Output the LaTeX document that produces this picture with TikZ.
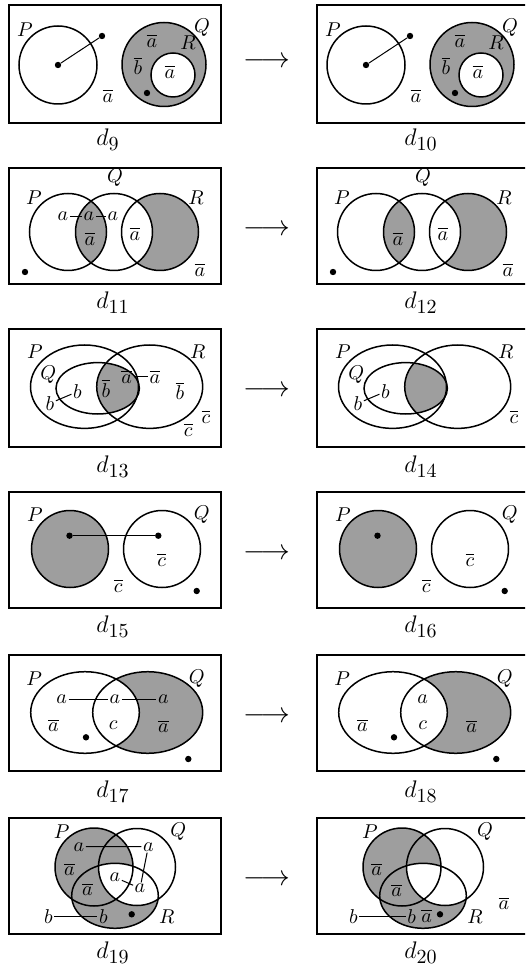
\documentclass[tikz,border=0pt]{standalone}
\usepackage{amsmath,amssymb}
\usepackage{tikz}

\newcommand{\dname}[1]{$d_{\text{\normalsize #1}}$}

\begin{document}
\begin{tikzpicture}[x=0.5pt, y=-0.5pt,
      frame/.style={draw, line width=1.2pt},
      venn/.style={draw, line width=0.75pt},
      shaded/.style={fill=black!38},
      spot/.style={circle, fill, inner sep=0pt, minimum size=3.2pt},
      lab/.style={inner sep=0.6pt},
      link/.style={line width=0.5pt},
      caption/.style={anchor=west, inner sep=0pt, font=\large},
      move/.style={font=\fontsize{13.5}{16}\selectfont}
    ]
    \clip (0,0) rectangle (525,967);

    % ── d9 ──
    \begin{scope}[shift={(0,5)}]
      \draw[frame] (9,0) rectangle (221,118);
      \fill[shaded] (164,59.5) circle (42);
      \fill[white] (173,70) circle (22);
      \draw[venn] (58,60) circle (39) (164,59.5) circle (42) (173,70) circle (22);
      \node[lab] (P9) at (25,25) {$P$};
      \node[lab] (Q9) at (202,23) {$Q$};
      \node[lab] (R9) at (188,38) {$R$};
      \node[spot] (c9) at (58,60) {};
      \node[spot] (e9) at (102,31) {};
      \draw[link] (c9) -- (e9);
      \node[lab] (aq9) at (152,36) {$\overline{a}$};
      \node[lab] (bq9) at (138,61) {$\overline{b}$};
      \node[lab] (ar9) at (170,67) {$\overline{a}$};
      \node[spot] (s9) at (147,88) {};
      \node[lab] (ao9) at (108,91) {$\overline{a}$};
      \node[caption] (d9) at (96,135) {\dname{9}};
    \end{scope}
    \node[move] (go1) at (267,62) {$\longrightarrow$};

    % ── d10 ──
    \begin{scope}[shift={(308,5)}]
      \draw[frame] (9,0) rectangle (221,118);
      \fill[shaded] (164,59.5) circle (42);
      \fill[white] (173,70) circle (22);
      \draw[venn] (58,60) circle (39) (164,59.5) circle (42) (173,70) circle (22);
      \node[lab] (P10) at (25,25) {$P$};
      \node[lab] (Q10) at (202,23) {$Q$};
      \node[lab] (R10) at (188,38) {$R$};
      \node[spot] (c10) at (58,60) {};
      \node[spot] (e10) at (102,31) {};
      \draw[link] (c10) -- (e10);
      \node[lab] (aq10) at (152,36) {$\overline{a}$};
      \node[lab] (bq10) at (138,61) {$\overline{b}$};
      \node[lab] (ar10) at (170,67) {$\overline{a}$};
      \node[spot] (s10) at (147,88) {};
      \node[lab] (ao10) at (108,91) {$\overline{a}$};
      \node[caption] (d10) at (96,135) {\dname{10}};
    \end{scope}

    % ── d11 ──
    \begin{scope}[shift={(0,168)}]
      \draw[frame] (9,0) rectangle (221,116);
      \begin{scope}
        \clip (68,64) circle (38.5);
        \fill[shaded] (114,64) circle (38.5);
      \end{scope}
      \fill[shaded] (160,64) circle (38.5);
      \begin{scope}
        \clip (160,64) circle (38.5);
        \fill[white] (114,64) circle (38.5);
      \end{scope}
      \draw[venn] (68,64) circle (38.5) (114,64) circle (38.5) (160,64) circle (38.5);
      \node[lab] (P11) at (34,30) {$P$};
      \node[lab] (Q11) at (115,10) {$Q$};
      \node[lab] (R11) at (196,30) {$R$};
      \node[lab] (al11) at (63,48.5) {$a$};
      \node[lab] (am11) at (89,48.5) {$a$};
      \node[lab] (ar11) at (113,48.5) {$a$};
      \draw[link] (al11) -- (am11) -- (ar11);
      \node[lab] (apq11) at (90,71) {$\overline{a}$};
      \node[lab] (aqr11) at (135,66) {$\overline{a}$};
      \node[lab] (ao11) at (200,102) {$\overline{a}$};
      \node[spot] (s11) at (25,104) {};
      \node[caption] (d11) at (96,135) {\dname{11}};
    \end{scope}
    \node[move] (go2) at (267,62+168) {$\longrightarrow$};

    % ── d12 ──
    \begin{scope}[shift={(308,168)}]
      \draw[frame] (9,0) rectangle (221,116);
      \begin{scope}
        \clip (68,64) circle (38.5);
        \fill[shaded] (114,64) circle (38.5);
      \end{scope}
      \fill[shaded] (160,64) circle (38.5);
      \begin{scope}
        \clip (160,64) circle (38.5);
        \fill[white] (114,64) circle (38.5);
      \end{scope}
      \draw[venn] (68,64) circle (38.5) (114,64) circle (38.5) (160,64) circle (38.5);
      \node[lab] (P12) at (34,30) {$P$};
      \node[lab] (Q12) at (115,10) {$Q$};
      \node[lab] (R12) at (196,30) {$R$};
      \node[lab] (apq12) at (90,71) {$\overline{a}$};
      \node[lab] (aqr12) at (135,66) {$\overline{a}$};
      \node[lab] (ao12) at (200,102) {$\overline{a}$};
      \node[spot] (s12) at (25,104) {};
      \node[caption] (d12) at (96,135) {\dname{12}};
    \end{scope}

    % ── d13 ──
    \begin{scope}[shift={(0,329)}]
      \draw[frame] (9,0) rectangle (221,118);
      \begin{scope}
        \clip (97.7,59.3) ellipse [x radius=41.7, y radius=25.7];
        \fill[shaded] (149.7,57.7) ellipse [x radius=53, y radius=41.7];
      \end{scope}
      \draw[venn] (84.5,57.7) ellipse [x radius=54, y radius=41.7];
      \draw[venn] (149.7,57.7) ellipse [x radius=53, y radius=41.7];
      \draw[venn] (97.7,59.3) ellipse [x radius=41.7, y radius=25.7];
      \node[lab] (P13) at (35,22.7) {$P$};
      \node[lab] (R13) at (197.7,22.7) {$R$};
      \node[lab] (Q13) at (48.3,46) {$Q$};
      \node[lab] (bl13) at (50,74.3) {$b$};
      \node[lab] (bu13) at (77.3,62.7) {$b$};
      \draw[link] (bl13) -- (bu13);
      \node[lab] (bg13) at (106,59.3) {$\overline{b}$};
      \node[lab] (al13) at (126.7,47.7) {$\overline{a}$};
      \node[lab] (ar13) at (155,47.7) {$\overline{a}$};
      \draw[link] (al13) -- (ar13);
      \node[lab] (br13) at (180,61.7) {$\overline{b}$};
      \node[lab] (cr13) at (206,87.7) {$\overline{c}$};
      \node[lab] (cl13) at (188.3,101) {$\overline{c}$};
      \node[caption] (d13) at (96,138) {\dname{13}};
    \end{scope}
    \node[move] (go3) at (267,62+329) {$\longrightarrow$};

    % ── d14 ──
    \begin{scope}[shift={(308,329)}]
      \draw[frame] (9,0) rectangle (221,118);
      \begin{scope}
        \clip (97.7,59.3) ellipse [x radius=41.7, y radius=25.7];
        \fill[shaded] (149.7,57.7) ellipse [x radius=53, y radius=41.7];
      \end{scope}
      \draw[venn] (84.5,57.7) ellipse [x radius=54, y radius=41.7];
      \draw[venn] (149.7,57.7) ellipse [x radius=53, y radius=41.7];
      \draw[venn] (97.7,59.3) ellipse [x radius=41.7, y radius=25.7];
      \node[lab] (P14) at (35,22.7) {$P$};
      \node[lab] (R14) at (197.7,22.7) {$R$};
      \node[lab] (Q14) at (48.3,46) {$Q$};
      \node[lab] (bl14) at (50,74.3) {$b$};
      \node[lab] (bu14) at (77.3,62.7) {$b$};
      \draw[link] (bl14) -- (bu14);
      \node[lab] (cr14) at (206,87.7) {$\overline{c}$};
      \node[caption] (d14) at (96,138) {\dname{14}};
    \end{scope}

    % ── d15 ──
    \begin{scope}[shift={(0,492)}]
      \draw[frame] (9,0) rectangle (221,116);
      \fill[shaded] (70,57) circle (38.5);
      \draw[venn] (70,57) circle (38.5) (162,57) circle (38.5);
      \node[lab] (P15) at (35,23) {$P$};
      \node[lab] (Q15) at (201.7,23) {$Q$};
      \node[spot] (cp15) at (69.5,43.7) {};
      \node[spot] (cq15) at (158.3,43.7) {};
      \draw[link] (cp15) -- (cq15);
      \node[lab] (cin15) at (161.7,68) {$\overline{c}$};
      \node[lab] (cout15) at (118.3,93.7) {$\overline{c}$};
      \node[spot] (s15) at (196.7,99) {};
      \node[caption] (d15) at (96,135) {\dname{15}};
    \end{scope}
    \node[move] (go4) at (267,62+492) {$\longrightarrow$};

    % ── d16 ──
    \begin{scope}[shift={(308,492)}]
      \draw[frame] (9,0) rectangle (221,116);
      \fill[shaded] (70,57) circle (38.5);
      \draw[venn] (70,57) circle (38.5) (162,57) circle (38.5);
      \node[lab] (P16) at (35,23) {$P$};
      \node[lab] (Q16) at (201.7,23) {$Q$};
      \node[spot] (cp16) at (69.5,43.7) {};
      \node[lab] (cin16) at (162,68) {$\overline{c}$};
      \node[lab] (cout16) at (118.3,93.7) {$\overline{c}$};
      \node[spot] (s16) at (196.7,99) {};
      \node[caption] (d16) at (96,135) {\dname{16}};
    \end{scope}

    % ── d17 ──
    \begin{scope}[shift={(0,655)}]
      \draw[frame] (9,0) rectangle (221,116);
      \fill[shaded] (147.7,57.5) ellipse [x radius=55, y radius=40.8];
      \begin{scope}
        \clip (85,57.5) ellipse [x radius=54.3, y radius=40.8];
        \fill[white] (147.7,57.5) ellipse [x radius=55, y radius=40.8];
      \end{scope}
      \draw[venn] (85,57.5) ellipse [x radius=54.3, y radius=40.8];
      \draw[venn] (147.7,57.5) ellipse [x radius=55, y radius=40.8];
      \node[lab] (P17) at (34.3,23.3) {$P$};
      \node[lab] (Q17) at (196.7,23.3) {$Q$};
      \node[lab] (al17) at (61.7,44.3) {$a$};
      \node[lab] (am17) at (115,44.3) {$a$};
      \node[lab] (ar17) at (163.3,44.3) {$a$};
      \draw[link] (al17) -- (am17) -- (ar17);
      \node[lab] (bl17) at (53.3,70) {$\overline{a}$};
      \node[lab] (c17) at (113.3,70) {$c$};
      \node[lab] (br17) at (163.3,71) {$\overline{a}$};
      \node[spot] (sp17) at (86,82.3) {};
      \node[spot] (sq17) at (188.3,104) {};
      \node[caption] (d17) at (96,137) {\dname{17}};
    \end{scope}
    \node[move] (go5) at (267,62+655) {$\longrightarrow$};

    % ── d18 ──
    \begin{scope}[shift={(308,655)}]
      \draw[frame] (9,0) rectangle (221,116);
      \fill[shaded] (147.7,57.5) ellipse [x radius=55, y radius=40.8];
      \begin{scope}
        \clip (85,57.5) ellipse [x radius=54.3, y radius=40.8];
        \fill[white] (147.7,57.5) ellipse [x radius=55, y radius=40.8];
      \end{scope}
      \draw[venn] (85,57.5) ellipse [x radius=54.3, y radius=40.8];
      \draw[venn] (147.7,57.5) ellipse [x radius=55, y radius=40.8];
      \node[lab] (P18) at (34.3,23.3) {$P$};
      \node[lab] (Q18) at (196.7,23.3) {$Q$};
      \node[lab] (am18) at (114.7,44.3) {$a$};
      \node[lab] (bl18) at (54.3,70) {$\overline{a}$};
      \node[lab] (c18) at (114.7,70) {$c$};
      \node[lab] (br18) at (163.7,71) {$\overline{a}$};
      \node[spot] (sp18) at (86,82.3) {};
      \node[spot] (sq18) at (188.3,104) {};
      \node[caption] (d18) at (96,137) {\dname{18}};
    \end{scope}

    % ── d19 ──
    \begin{scope}[shift={(0,818)}]
      \draw[frame] (9,0) rectangle (221,116);
      \fill[shaded] (94,49) circle (39);
      \fill[shaded] (115,77.8) ellipse [x radius=43.3, y radius=32.5];
      \begin{scope}
        \clip (115,77.8) ellipse [x radius=43.3, y radius=32.5];
        \fill[white] (137,49) circle (38.5);
      \end{scope}
      \draw[venn] (94,49) circle (39) (137,49) circle (38.5);
      \draw[venn] (115,77.8) ellipse [x radius=43.3, y radius=32.5];
      \node[lab] (P19) at (61.7,13.7) {$P$};
      \node[lab] (Q19) at (178.3,13.7) {$Q$};
      \node[lab] (R19) at (166.7,98.7) {$R$};
      \node[lab] (at19) at (79,28.7) {$a$};
      \node[lab] (aq19) at (148.3,28.7) {$a$};
      \node[lab] (ac19) at (115,59.3) {$a$};
      \node[lab] (ar19) at (140,70.3) {$a$};
      \draw[link] (at19) -- (aq19) -- (ar19) -- (ac19);
      \node[lab] (bp19) at (69.3,51) {$\overline{a}$};
      \node[lab] (bpr19) at (87.3,71) {$\overline{a}$};
      \node[lab] (bo19) at (48.3,98.7) {$b$};
      \node[lab] (bi19) at (103.3,98.7) {$b$};
      \draw[link] (bo19) -- (bi19);
      \node[spot] (s19) at (131.7,96.3) {};
      \node[caption] (d19) at (96,135) {\dname{19}};
    \end{scope}
    \node[move] (go6) at (267,62+818) {$\longrightarrow$};

    % ── d20 ──
    \begin{scope}[shift={(308,818)}]
      \draw[frame] (9,0) rectangle (221,116);
      \fill[shaded] (94,49) circle (39);
      \fill[shaded] (115,77.8) ellipse [x radius=43.3, y radius=32.5];
      \begin{scope}
        \clip (115,77.8) ellipse [x radius=43.3, y radius=32.5];
        \fill[white] (137,49) circle (38.5);
      \end{scope}
      \draw[venn] (94,49) circle (39) (137,49) circle (38.5);
      \draw[venn] (115,77.8) ellipse [x radius=43.3, y radius=32.5];
      \node[lab] (P20) at (62,13.7) {$P$};
      \node[lab] (Q20) at (177,13.7) {$Q$};
      \node[lab] (R20) at (167,98.7) {$R$};
      \node[lab] (bp20) at (68.7,51) {$\overline{a}$};
      \node[lab] (bpr20) at (88.7,72) {$\overline{a}$};
      \node[lab] (bo20) at (45.3,98.7) {$b$};
      \node[lab] (bi20) at (103.7,98.7) {$b$};
      \draw[link] (bo20) -- (bi20);
      \node[lab] (br20) at (118.7,97.7) {$\overline{a}$};
      \node[spot] (s20) at (132,96.3) {};
      \node[lab] (bx20) at (196,85.3) {$\overline{a}$};
      \node[caption] (d20) at (96,135) {\dname{20}};
    \end{scope}

  \end{tikzpicture}
\end{document}
